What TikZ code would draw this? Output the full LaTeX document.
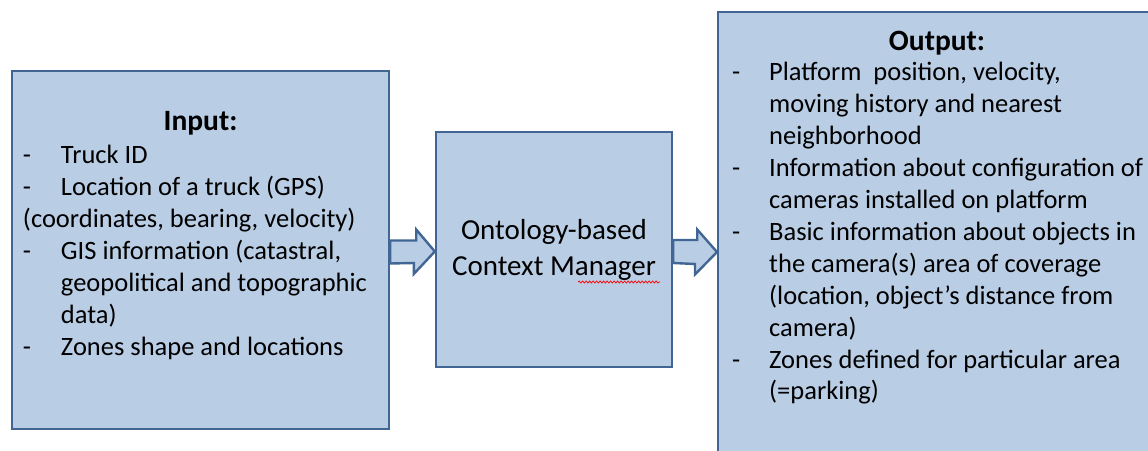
\documentclass[tikz,border=0pt]{standalone}
\usepackage{fontspec}
\setmainfont{Carlito}
\usepackage{array}
\usetikzlibrary{calc}
\usetikzlibrary{positioning}
\usetikzlibrary{decorations.pathmorphing}

\definecolor{boxfill}{RGB}{185,205,229}
\definecolor{boxline}{RGB}{66,102,148}

\tikzset{
  block/.style={draw=boxline,fill=boxfill,line width=2.4pt,inner sep=0pt},
  blockarrow/.style={draw=boxline,fill=boxfill,line width=2.4pt,line join=miter},
  listtext/.style={inner sep=0pt,font=\fontsize{26.5}{31.9}\selectfont},
  titletext/.style={inner sep=0pt,font=\fontsize{29.5}{34}\selectfont\bfseries},
  mgrtext/.style={inner sep=0pt,font=\fontsize{29}{36}\selectfont},
}

\begin{document}
\begin{tikzpicture}[x=1pt,y=1pt]
\useasboundingbox (0,0) rectangle (1148,450);
\clip (0,0) rectangle (1148,450);

\node[block,minimum width=377pt,minimum height=358pt] (input) at (200.5,200) {};
\node[block,minimum width=236pt,minimum height=235pt] (manager) at (554,200.5) {};
\node[block,anchor=north west,minimum width=460pt,minimum height=460pt] (output) at (717,439) {};

% input side
\node[titletext,anchor=base] (in title) at ([yshift=-61pt]input.north) {Input:};
\node[listtext,anchor=base west] (in list) at ([shift={(12pt,-94pt)}]input.north west) {%
\begin{tabular}[t]{@{}p{38pt}@{}l@{}}
-&Truck ID\\
-&Location of a truck (GPS)\\
\multicolumn{2}{@{}l@{}}{(coordinates, bearing, velocity)}\\
-&GIS information (catastral,\\
&geopolitical and topographic\\
&data)\\
-&Zones shape and locations
\end{tabular}};

% manager
\node[mgrtext,anchor=base] (mgr label) at ([yshift=-109pt]manager.north) {%
\begin{tabular}[t]{@{}c@{}}
Ontology-based\\
Context Manager
\end{tabular}};
\draw[red,line width=0.7pt,decorate,decoration={snake,amplitude=1pt,segment length=3.5pt}]
  (578,168) -- (660,168);

% output side
\node[titletext,anchor=base] (out title) at ([xshift=220pt,yshift=-40pt]output.north west) {Output:};
\node[listtext,anchor=base west] (out list) at ([shift={(15pt,-70pt)}]output.north west) {%
\begin{tabular}[t]{@{}p{37pt}@{}l@{}}
-&Platform\ \ position, velocity,\\
&moving history and nearest\\
&neighborhood\\
-&Information about configuration of\\
&cameras installed on platform\\
-&Basic information about objects in\\
&the camera(s) area of coverage\\
&(location, object’s distance from\\
&camera)\\
-&Zones defined for particular area\\
&(=parking)
\end{tabular}};

% arrows
\draw[blockarrow] ([yshift=9.5pt]input.east) -- ++(26pt,0) -- ++(0,11pt)
  -- ([yshift=-2pt]manager.west) -- ++(-21pt,-22.5pt) -- ++(0,11pt)
  -- ([yshift=-13.5pt]input.east) -- cycle;
\path (manager.east -| output.west) coordinate (tip out);
\draw[blockarrow] ([yshift=9.5pt]manager.east) -- ++(24pt,0) -- ++(0,10.5pt)
  -- ([yshift=-2.5pt]tip out) -- ++(-22pt,-22.5pt) -- ++(0,10.5pt)
  -- ([yshift=-13.5pt]manager.east) -- cycle;
\end{tikzpicture}
\end{document}
